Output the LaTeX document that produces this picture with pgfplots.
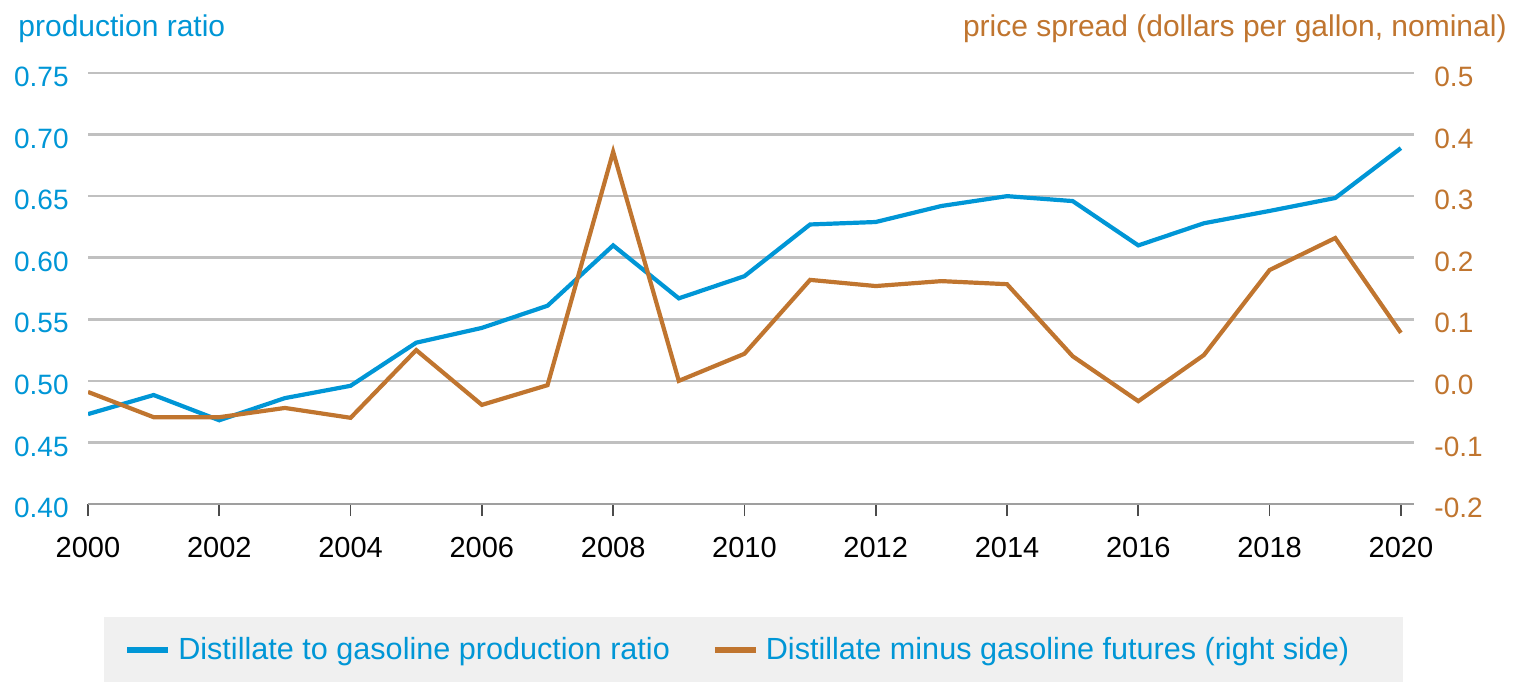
\documentclass[border=0pt]{standalone}
\usepackage{fontspec}
\setmainfont{Liberation Sans}
\usepackage{pgfplots}
\pgfplotsset{compat=1.18}
\definecolor{ratioblue}{HTML}{0096D6}
\definecolor{spreadorange}{HTML}{C0752F}
\definecolor{gridgray}{HTML}{C0C0C0}
\definecolor{legfill}{HTML}{F0F0F0}

\pgfplotsset{
  common/.style={
    scale only axis, width=663pt, height=215.5pt,
    at={(44pt,88.5pt)}, anchor=south west,
    xmin=2000, xmax=2020.2,
    tick label style={font=\fontsize{14}{16}\selectfont},
    /pgf/number format/assume math mode=true,
  },
}

\begin{document}
\begin{tikzpicture}
\path[use as bounding box] (0,0) rectangle (756.5pt,340.5pt);

% left axis: production ratio
\begin{axis}[common,
  axis x line*=bottom, axis y line*=left,
  y axis line style={draw=none},
  x axis line style={draw=gray!75, line width=1.3pt},
  ymin=0.40, ymax=0.75, ytick={0.40,0.45,...,0.76},
  ymajorgrids, grid style={gridgray, line width=1.3pt},
  ytick style={draw=none},
  xtick={2000,2002,...,2020},
  xticklabel style={/pgf/number format/1000 sep={}, anchor=north, inner sep=0pt, yshift=-10.5pt,
    font=\fontsize{14.5}{16}\selectfont},
  tick align=outside, major tick length=6pt,
  xtick style={draw=black!70, line width=0.9pt},
  yticklabel style={ratioblue, anchor=east, inner sep=0pt, xshift=-3.5pt, yshift=-2pt,
    /pgf/number format/.cd, fixed, fixed zerofill, precision=2},
  legend columns=2,
  legend style={at={(0.012,-0.262)}, anchor=north west, fill=legfill, draw=none,
    inner xsep=10pt, inner ysep=8pt,
    font=\fontsize{15.3}{17}\selectfont, text=ratioblue,
    /tikz/every even column/.append style={column sep=19pt}},
  legend image code/.code={\draw[#1, line width=3pt] (0pt,0pt) -- (20.5pt,0pt);},
]
\addplot[ratioblue, line width=2.1pt] coordinates {
  (2000,0.473) (2001,0.4885) (2002,0.468) (2003,0.486) (2004,0.496)
  (2005,0.531) (2006,0.543) (2007,0.561) (2008,0.610) (2009,0.567)
  (2010,0.585) (2011,0.627) (2012,0.629) (2013,0.642) (2014,0.650)
  (2015,0.646) (2016,0.610) (2017,0.628) (2018,0.638) (2019,0.6485)
  (2020,0.689)
};
\addlegendentry{\hspace*{1.5pt}Distillate to gasoline production ratio}
\addlegendimage{spreadorange}
\addlegendentry{\hspace*{1.5pt}Distillate minus gasoline futures (right side)\rule{15pt}{0pt}}
\end{axis}

% right axis: price spread
\begin{axis}[common,
  axis x line=none, axis y line*=right,
  y axis line style={draw=none}, ytick style={draw=none},
  ymin=-0.2, ymax=0.5, ytick={-0.2,-0.1,...,0.51},
  yticklabel style={spreadorange, anchor=west, inner sep=0pt, xshift=10pt, yshift=-2pt,
    /pgf/number format/.cd, fixed, fixed zerofill, precision=1},
]
\addplot[spreadorange, line width=2.1pt] coordinates {
  (2000,-0.018) (2001,-0.059) (2002,-0.059) (2003,-0.044) (2004,-0.060)
  (2005,0.050) (2006,-0.039) (2007,-0.007) (2008,0.372) (2009,0.000)
  (2010,0.044) (2011,0.164) (2012,0.154) (2013,0.162) (2014,0.157)
  (2015,0.040) (2016,-0.033) (2017,0.042) (2018,0.180) (2019,0.232)
  (2020,0.078)
};
\end{axis}

\node[anchor=base west, inner sep=0pt, text=ratioblue, font=\fontsize{15}{17}\selectfont] at (9pt,322pt) {production ratio};
\node[anchor=base east, inner sep=0pt, text=spreadorange, font=\fontsize{15}{17}\selectfont] at (753.5pt,322pt) {price spread (dollars per gallon, nominal)};
\end{tikzpicture}
\end{document}
